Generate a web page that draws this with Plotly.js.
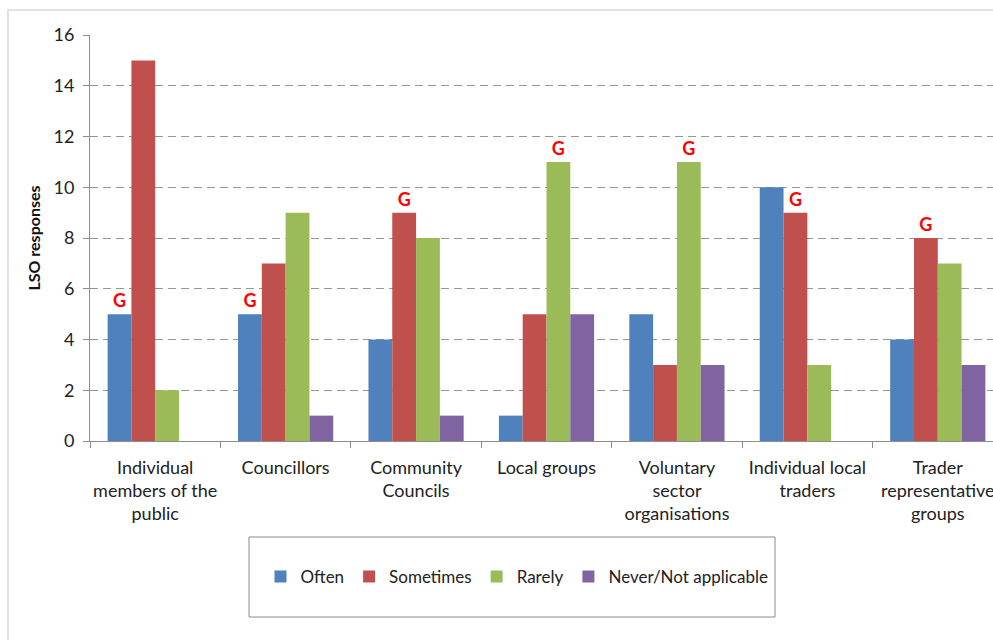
<!DOCTYPE html>
<html>
<head>
<meta charset="utf-8">
<script src="https://cdn.plot.ly/plotly-3.0.1.min.js"></script>
<style>
html, body { margin: 0; padding: 0; overflow: hidden; background: #fff; }
#chart { width: 1010px; height: 660px; }
</style>
</head>
<body>
<div id="chart"></div>
<script>
const categories = [
  "Individual<br>members of the<br>public",
  "Councillors",
  "Community<br>Councils",
  "Local groups",
  "Voluntary<br>sector<br>organisations",
  "Individual local<br>traders",
  "Trader<br>representative<br>groups"
];
const seriesNames = ["Often", "Sometimes", "Rarely", "Never/Not applicable"];
const often = [5, 5, 4, 1, 5, 10, 4];
const sometimes = [15, 7, 9, 5, 3, 9, 8];
const rarely = [2, 9, 8, 11, 11, 3, 7];
const never = [0, 1, 1, 5, 3, 0, 3];
// series that carries the red "G" marker in each category
const gMarked = ["Often", "Often", "Sometimes", "Rarely", "Rarely", "Sometimes", "Sometimes"];
const colors = ["#4F81BD", "#C0504D", "#9BBB59", "#8064A2"];

const FONT = "Lato, 'Open Sans', sans-serif";
const allValues = [often, sometimes, rarely, never];

const traces = seriesNames.map((name, i) => ({
  type: "bar",
  name: name,
  x: categories,
  y: allValues[i],
  marker: { color: colors[i], line: { width: 0 } },
  text: gMarked.map(g => g === name ? "G" : ""),
  textposition: "outside",
  textfont: { color: "#FF0000", size: 18, family: "Lato, sans-serif", weight: "bold" },
  constraintext: "none",
  cliponaxis: false,
  hoverinfo: "x+y+name"
}));

// plot area in px: left 90, right 1003, top 35, bottom 441
const L = 90, R = 1003, T = 35, B = 441;
const px = v => (v - L) / (R - L);
const py = v => (B - v) / (B - T);

const layout = {
  width: 1010,
  height: 660,
  margin: { l: L, r: 1010 - R, t: T, b: 660 - B, pad: 0 },
  paper_bgcolor: "#ffffff",
  plot_bgcolor: "#ffffff",
  font: { family: FONT, size: 16, color: "#222" },
  barmode: "group",
  bargap: 0.27,
  bargroupgap: 0,
  showlegend: true,
  legend: {
    orientation: "h",
    x: px(517), xanchor: "center",
    y: py(577), yanchor: "middle",
    font: { family: FONT, size: 17, color: "#222" },
    bgcolor: "rgba(0,0,0,0)",
    itemwidth: 30,
    traceorder: "normal"
  },
  xaxis: {
    type: "category",
    showline: true, linecolor: "#8c8c8c", linewidth: 1,
    ticks: "outside", ticklen: 6, tickcolor: "#8c8c8c",
    tickson: "boundaries",
    tickangle: 0,
    ticklabelstandoff: 10,
    tickfont: { family: FONT, size: 18, color: "#222" },
    showgrid: false,
    fixedrange: true
  },
  yaxis: {
    range: [0, 16], dtick: 2,
    showline: true, linecolor: "#8c8c8c", linewidth: 1,
    ticks: "outside", ticklen: 6, tickcolor: "#8c8c8c",
    ticklabelstandoff: 5,
    tickfont: { family: FONT, size: 18, color: "#222" },
    showgrid: true, gridcolor: "#969696", griddash: "8px,5px", gridwidth: 1,
    zeroline: false,
    title: { text: "<b>LSO responses</b>", font: { family: FONT, size: 16, color: "#111" }, standoff: 8 },
    fixedrange: true
  },
  shapes: [
    { type: "rect", xref: "paper", yref: "paper",
      x0: px(8), x1: px(1040), y0: py(700), y1: py(10),
      line: { color: "#d9d9d9", width: 1.5 }, fillcolor: "rgba(0,0,0,0)", layer: "below" },
    { type: "rect", xref: "paper", yref: "paper",
      x0: px(249), x1: px(775), y0: py(617), y1: py(537),
      line: { color: "#8c8c8c", width: 1 }, fillcolor: "rgba(0,0,0,0)", layer: "below" }
  ]
};

Plotly.newPlot("chart", traces, layout, { displayModeBar: false, staticPlot: true });
</script>
</body>
</html>
